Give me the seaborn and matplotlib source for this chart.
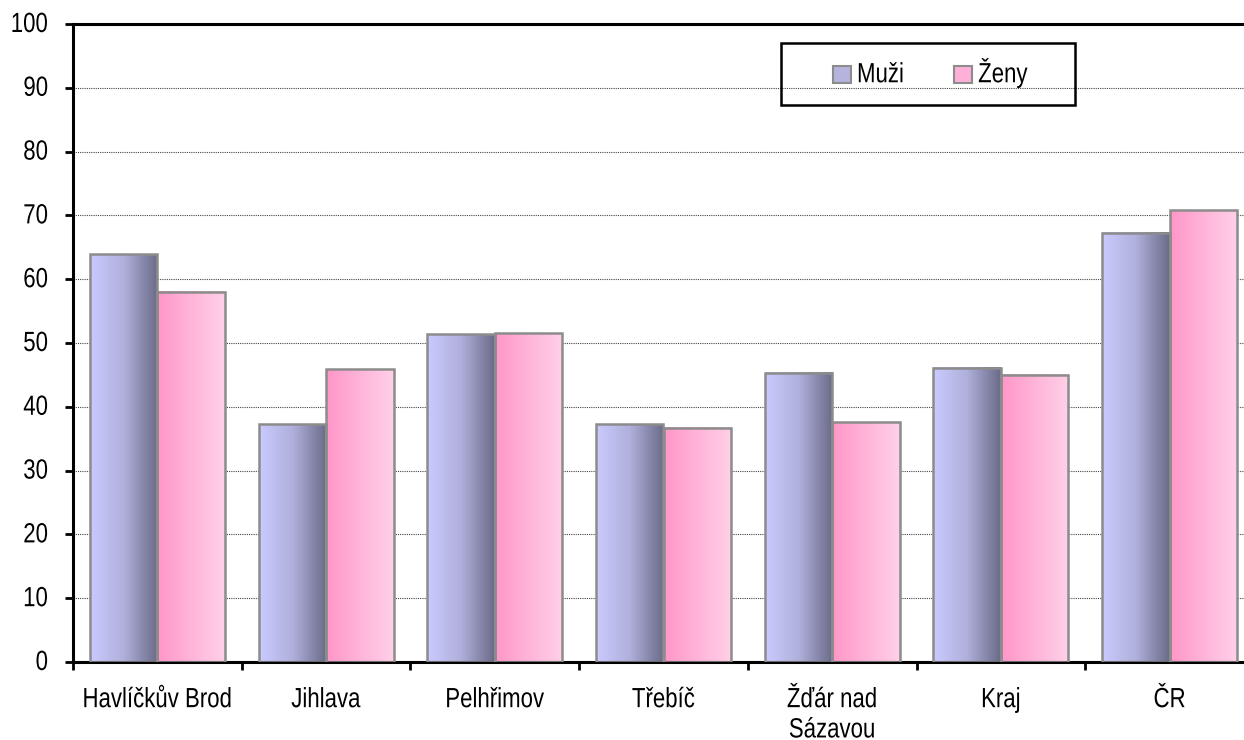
import numpy as np
import pandas as pd
import matplotlib
matplotlib.use("Agg")
import matplotlib.pyplot as plt
import seaborn as sns
from matplotlib.colors import LinearSegmentedColormap
from matplotlib.patches import Patch, Rectangle
from matplotlib.patheffects import AbstractPathEffect
from matplotlib.transforms import Affine2D

# --- data ---
okresy = ["Havlíčkův Brod", "Jihlava", "Pelhřimov", "Třebíč", "Žďár nad\nSázavou", "Kraj", "ČR"]
skupiny = ["Muži", "Ženy"]
muzi = [63.9, 37.3, 51.4, 37.3, 45.3, 46.1, 67.3]
zeny = [58.0, 45.9, 51.5, 36.7, 37.6, 45.0, 70.8]

df = pd.DataFrame({
    "okres": okresy * 2,
    "pohlavi": ["Muži"] * len(okresy) + ["Ženy"] * len(okresy),
    "hodnota": muzi + zeny,
})


class Stretch(AbstractPathEffect):
    # the original chart's text is a bit taller than wide, stretch glyphs about the baseline
    def __init__(self, sy=1.25):
        super().__init__()
        self.sy = sy

    def draw_path(self, renderer, gc, tpath, affine, rgbFace=None):
        renderer.draw_path(gc, tpath, Affine2D().scale(1, self.sy) + affine, rgbFace)


sns.set_style("white")
plt.rcParams["font.family"] = ["Liberation Sans", "DejaVu Sans"]
plt.rcParams["text.color"] = "black"

W, H = 1244, 740
fig = plt.figure(figsize=(W / 100, H / 100), dpi=100)
ax = fig.add_axes([73 / W, 1 - 662 / H, (1254 - 73) / W, (662 - 24) / H])

sns.barplot(data=df, x="okres", y="hodnota", hue="pohlavi", order=okresy,
            hue_order=skupiny, width=0.8, legend=False, ax=ax,
            palette=["#b4b4dc", "#ffb0d8"], edgecolor="#8c8c8c", linewidth=1.8)

# gradient fills like the old Excel look
cmaps = [
    LinearSegmentedColormap.from_list("muzi", ["#cacaff", "#b0b0dc", "#6a6a88"]),
    LinearSegmentedColormap.from_list("zeny", ["#ff96c8", "#ffb4d8", "#ffd0e8"]),
]
grad = np.linspace(0, 1, 256).reshape(1, -1)
for cont, cm in zip(ax.containers, cmaps):
    for bar in cont:
        x0, y0 = bar.get_xy()
        w, h = bar.get_width(), bar.get_height()
        ax.imshow(grad, extent=[x0, x0 + w, y0, y0 + h], aspect="auto",
                  cmap=cm, zorder=2.5, interpolation="bilinear")
        bar.set_facecolor("none")
        bar.set_zorder(3)

ax.set_xlim(-0.5, len(okresy) - 0.5)
ax.set_ylim(0, 100)
ax.set_yticks(range(0, 101, 10))
ax.set_xticks(np.arange(-0.5, len(okresy), 1))
ax.set_xticklabels([])
ax.set_xticks(range(len(okresy)), minor=True)
ax.set_xticklabels(okresy, minor=True, linespacing=1.58)
ax.set_xlabel("")
ax.set_ylabel("")

ax.yaxis.grid(True, linestyle=(0, (1, 1)), color="#444444", linewidth=0.8)
ax.set_axisbelow(True)

for side in ["left", "bottom", "top"]:
    ax.spines[side].set_visible(True)
    ax.spines[side].set_color("black")
    ax.spines[side].set_linewidth(2.2)
ax.spines["right"].set_visible(False)

ax.tick_params(axis="y", left=True, direction="out", length=6, width=2,
               color="black", pad=12, labelsize=16, labelcolor="black")
ax.tick_params(axis="x", which="major", bottom=True, direction="out", length=6,
               width=2, color="black")
ax.tick_params(axis="x", which="minor", bottom=True, length=0, pad=21,
               labelsize=16, labelcolor="black")

for lab in ax.get_yticklabels() + ax.get_xticklabels(minor=True):
    lab.set_path_effects([Stretch(1.25)])

# legend: frame drawn separately so the padding matches the reference
fig.patches.append(Rectangle((781 / W, 1 - 105 / H), 294 / W, 62 / H,
                             transform=fig.transFigure, fill=False,
                             edgecolor="black", linewidth=1.8))
handles = [Patch(facecolor="#b4b4dc", edgecolor="#8c8c8c", linewidth=1.5),
           Patch(facecolor="#ffb0d8", edgecolor="#8c8c8c", linewidth=1.5)]
leg = fig.legend(handles, skupiny, loc="center left",
                 bbox_to_anchor=(833 / W, 1 - 75 / H), ncol=2, frameon=False,
                 fontsize=16, handlelength=0.8, handleheight=0.8,
                 handletextpad=0.28, columnspacing=2.25, borderpad=0,
                 borderaxespad=0)
for t in leg.get_texts():
    t.set_path_effects([Stretch(1.25)])

fig.savefig("out.png", dpi=100)
